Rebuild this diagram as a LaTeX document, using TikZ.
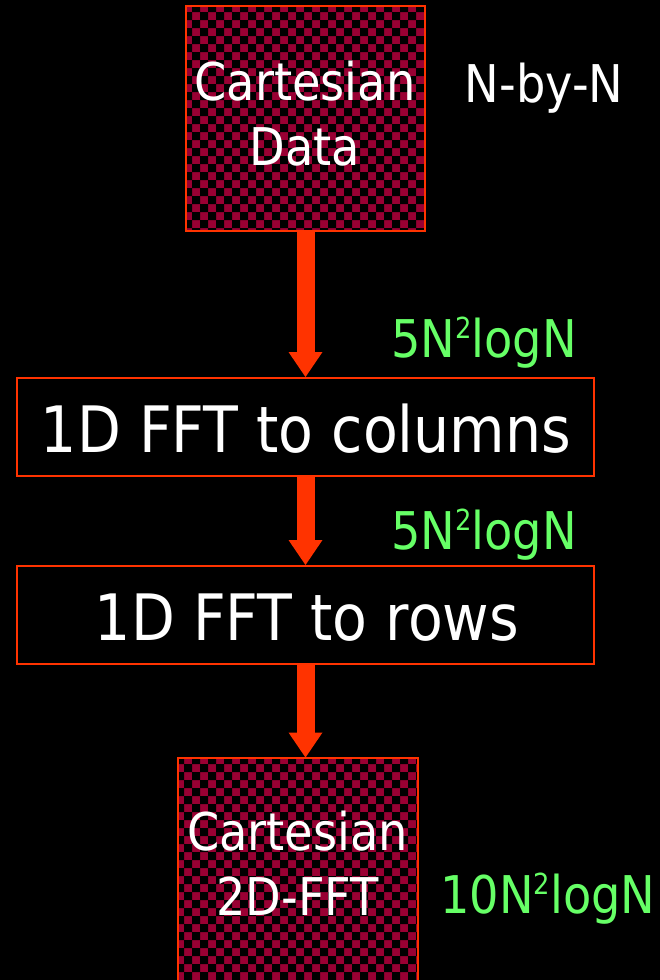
\documentclass[tikz,border=0pt]{standalone}
\usepackage{fontspec}
\usetikzlibrary{arrows.meta}
\newfontfamily\tah{DejaVu Sans}[FakeStretch=0.89]

\definecolor{edgeorange}{RGB}{255,51,0}
\definecolor{checkred}{RGB}{153,0,51}
\definecolor{costgreen}{RGB}{102,255,102}

% superscript two used in the cost labels
\newcommand\sqtwo{\raisebox{19pt}{\fontsize{29}{29}\selectfont 2}}

% black squares of the checkerboard, 8pt cells on a fixed grid
\newcommand\checkers[1]{%
  \begin{scope}
    \clip (#1.south west) rectangle (#1.north east);
    \foreach \a in {10,...,28}{
      \foreach \b in {-1,...,62}{
        \fill[black] (16*\a,4+16*\b) rectangle ++(8,8)
                     (16*\a+8,12+16*\b) rectangle ++(8,8);
      }
    }
  \end{scope}
  \draw[frame] (#1.south west) rectangle (#1.north east);}

\tikzset{
  frame/.style={draw=edgeorange, line width=2pt},
  checkbox/.style={fill=checkred, inner sep=0pt, outer sep=0pt},
  stepbox/.style={frame, inner sep=0pt,
    minimum width=577pt, minimum height=98pt},
  flow/.style={draw=edgeorange, line width=18pt,
    -{Triangle[width=34pt,length=25pt,line width=0pt]}},
  wlabel/.style={text=white, inner sep=0pt, anchor=base, font=\tah\fontsize{52}{52}\selectfont},
  biglabel/.style={text=white, inner sep=0pt, anchor=base, font=\tah\fontsize{64}{64}\selectfont},
  cost/.style={text=costgreen, inner sep=0pt, anchor=base, font=\tah\fontsize{52}{52}\selectfont},
}

\begin{document}
\begin{tikzpicture}[x=1pt,y=-1pt]
  \useasboundingbox (0,0) rectangle (660,980);
  \fill[black] (0,0) rectangle (660,980);

  % boxes
  \node[checkbox, minimum width=239pt, minimum height=225pt] (src) at (305.5,118.5) {};
  \node[stepbox] (cols) at (305.5,427) {};
  \node[stepbox] (rows) at (305.5,615) {};
  \node[checkbox, minimum width=240.5pt, minimum height=250pt] (out) at (297.75,882.5) {};
  \checkers{src}
  \checkers{out}

  % box texts
  \node[wlabel] (srcA) at (305,100) {Cartesian};
  \node[wlabel] (srcB) at (305,165) {Data};
  \node[wlabel] (size) at (544,102) {N-by-N};
  \node[biglabel] (colsT) at (306,452) {1D FFT to columns};
  \node[biglabel] (rowsT) at (307,640) {1D FFT to rows};
  \node[wlabel] (outA) at (297.5,850) {Cartesian};
  \node[wlabel] (outB) at (297.5,915) {2D-FFT};

  % cost labels
  \node[cost] (c1) at (484,357) {5N\sqtwo logN};
  \node[cost] (c2) at (484,549) {5N\sqtwo logN};
  \node[cost] (c3) at (548,913) {10N\sqtwo logN};

  % flow arrows
  \draw[flow] (src.south) -- (cols.north);
  \draw[flow] (cols.south) -- (rows.north);
  \draw[flow] (rows.south) -- (rows.south |- out.north);
\end{tikzpicture}
\end{document}
